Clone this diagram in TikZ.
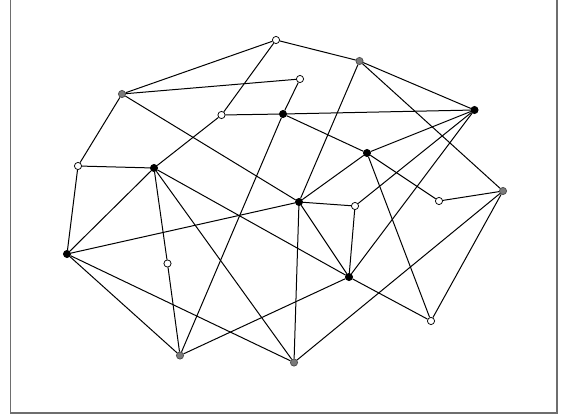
\documentclass[tikz,border=0pt]{standalone}
\definecolor{framegray}{HTML}{6E6E6E}
\definecolor{nodegray}{HTML}{7A7A7A}
\tikzset{
  vtx/.style={circle,inner sep=0pt,minimum size=7.2pt,line width=0.75pt},
  wv/.style={vtx,draw=black,fill=white},
  gv/.style={vtx,draw=black!70,fill=nodegray},
  bv/.style={vtx,draw=black,fill=black},
  edge/.style={line width=1pt,black},
}
\begin{document}
\begin{tikzpicture}[x=1pt,y=-1pt]
\useasboundingbox (0,0) rectangle (561,417);
\draw[framegray,line width=1.5pt] (10.5,-2) -- (10.5,413) -- (557,413) -- (557,-2);
% vertices
\node[wv] (A) at (276,40) {};
\node[gv] (B) at (359.5,61) {};
\node[gv] (C) at (122,94) {};
\node[wv] (D) at (300,79) {};
\node[wv] (E) at (221.5,115) {};
\node[bv] (F) at (283,114) {};
\node[bv] (G) at (474.5,110) {};
\node[bv] (H) at (367,153) {};
\node[wv] (I) at (78,166) {};
\node[bv] (J) at (154,168) {};
\node[gv] (K) at (503,191) {};
\node[wv] (L) at (439,201) {};
\node[bv] (M) at (299,202) {};
\node[wv] (N) at (355,206) {};
\node[bv] (O) at (67,254) {};
\node[wv] (P) at (167.5,263.5) {};
\node[bv] (Q) at (349,277) {};
\node[wv] (R) at (431,321) {};
\node[gv] (S) at (180,355.5) {};
\node[gv] (T) at (294,362.5) {};
% edges
\draw[edge] (A) -- (C);
\draw[edge] (A) -- (B);
\draw[edge] (A) -- (E);
\draw[edge] (C) -- (D);
\draw[edge] (C) -- (I);
\draw[edge] (C) -- (M);
\draw[edge] (E) -- (J);
\draw[edge] (E) -- (F);
\draw[edge] (D) -- (F);
\draw[edge] (F) -- (G);
\draw[edge] (F) -- (H);
\draw[edge] (F) -- (S);
\draw[edge] (B) -- (G);
\draw[edge] (B) -- (K);
\draw[edge] (B) -- (M);
\draw[edge] (G) -- (H);
\draw[edge] (G) -- (N);
\draw[edge] (G) -- (Q);
\draw[edge] (K) -- (L);
\draw[edge] (K) -- (R);
\draw[edge] (K) -- (T);
\draw[edge] (H) -- (M);
\draw[edge] (H) -- (L);
\draw[edge] (H) -- (R);
\draw[edge] (I) -- (J);
\draw[edge] (I) -- (O);
\draw[edge] (J) -- (O);
\draw[edge] (J) -- (P);
\draw[edge] (P) -- (S);
\draw[edge] (J) -- (T);
\draw[edge] (J) -- (Q);
\draw[edge] (O) -- (M);
\draw[edge] (O) -- (S);
\draw[edge] (O) -- (T);
\draw[edge] (S) -- (Q);
\draw[edge] (T) -- (M);
\draw[edge] (M) -- (N);
\draw[edge] (M) -- (Q);
\draw[edge] (N) -- (Q);
\draw[edge] (Q) -- (R);
\end{tikzpicture}
\end{document}
